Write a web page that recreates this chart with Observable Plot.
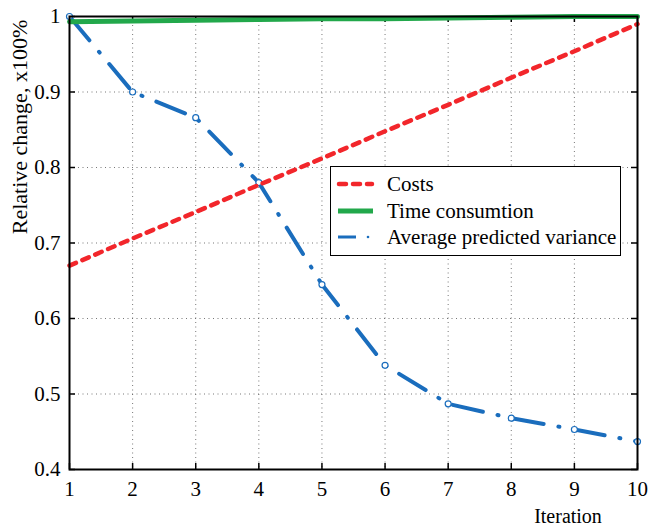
<!DOCTYPE html>
<html>
<head>
<meta charset="utf-8">
<script src="https://cdn.jsdelivr.net/npm/d3@7"></script>
<script src="https://cdn.jsdelivr.net/npm/@observablehq/plot@0.6"></script>
<style>
  body { margin: 0; background: #fff; }
  #wrap { position: relative; width: 649px; height: 526px; font-family: "Liberation Serif", "Times New Roman", Times, "DejaVu Serif", serif; }
  #legend { position: absolute; left: 330px; top: 166px; width: 289px; height: 88px; border: 1.5px solid #000; background: #fff; box-sizing: content-box; }
  .row { position: absolute; left: 0; height: 26px; display: flex; align-items: center; font-size: 21px; white-space: nowrap; }
  .row svg { margin-left: 5px; margin-right: 11px; }
</style>
</head>
<body>
<div id="wrap"></div>
<script>
const iterations = [1, 2, 3, 4, 5, 6, 7, 8, 9, 10];
const costs = [0.670, 0.706, 0.741, 0.777, 0.812, 0.848, 0.883, 0.919, 0.954, 0.990];
const timeConsumption = [0.993, 0.994, 0.995, 0.996, 0.997, 0.997, 0.998, 0.999, 1.000, 1.000];
const avgVariance = [1.000, 0.900, 0.866, 0.780, 0.645, 0.538, 0.487, 0.468, 0.453, 0.437];
const xTicks = [1, 2, 3, 4, 5, 6, 7, 8, 9, 10];
const yTicks = [0.4, 0.5, 0.6, 0.7, 0.8, 0.9, 1];
const yTickLabels = ["0.4", "0.5", "0.6", "0.7", "0.8", "0.9", "1"];
const seriesNames = ["Costs", "Time consumtion", "Average predicted variance"];

const colors = { red: "#f2262b", green: "#22a84b", blue: "#1a6dbd" };
const FONT = '"Liberation Serif", "Times New Roman", Times, "DejaVu Serif", serif';

const rows = iterations.map((x, i) => ({ x, costs: costs[i], time: timeConsumption[i], v: avgVariance[i] }));

const W = 649, H = 526;
const mL = 69, mR = 12, mT = 16, mB = 57;
const frameH = H - mT - mB;
const tickLen = 6;

const chart = Plot.plot({
  width: W, height: H,
  marginLeft: mL, marginRight: mR, marginTop: mT, marginBottom: mB,
  style: { fontFamily: FONT, background: "#fff", overflow: "visible" },
  x: { domain: [1, 10] },
  y: { domain: [0.4, 1] },
  marks: [
    Plot.gridX(xTicks, { stroke: "#555", strokeOpacity: 0.8, strokeDasharray: "1,3.5", strokeWidth: 1 }),
    Plot.gridY(yTicks, { stroke: "#555", strokeOpacity: 0.8, strokeDasharray: "1,3.5", strokeWidth: 1 }),
    Plot.tickX(xTicks, { x: d => d, insetTop: frameH - tickLen, stroke: "#000", strokeWidth: 1.5 }),
    Plot.tickX(xTicks, { x: d => d, insetBottom: frameH - tickLen, stroke: "#000", strokeWidth: 1.5 }),
    Plot.tickY(yTicks, { y: d => d, insetRight: (W - mL - mR) - tickLen, stroke: "#000", strokeWidth: 1.5 }),
    Plot.tickY(yTicks, { y: d => d, insetLeft: (W - mL - mR) - tickLen, stroke: "#000", strokeWidth: 1.5 }),
    Plot.axisX(xTicks, { tickSize: 0, tickPadding: 12, fontSize: 21, label: null, tickFormat: d => String(d) }),
    Plot.axisY(yTicks, { tickSize: 0, tickPadding: 9, fontSize: 21, label: null, tickFormat: (d, i) => yTickLabels[i] }),
    Plot.line(rows, { x: "x", y: "v", stroke: colors.blue, strokeWidth: 4, strokeDasharray: "31,15,1,15", strokeLinecap: "round" }),
    Plot.dot(rows, { x: "x", y: "v", r: 3, stroke: colors.blue, strokeWidth: 1.2, fill: "#fff" }),
    Plot.line(rows, { x: "x", y: "costs", stroke: colors.red, strokeWidth: 4.5, strokeDasharray: "7,7", strokeLinecap: "round" }),
    Plot.line(rows, { x: "x", y: "time", stroke: colors.green, strokeWidth: 5 }),
    Plot.frame({ stroke: "#000", strokeWidth: 2 })
  ]
});

const svg = d3.select(chart);
svg.append("text")
  .attr("transform", "translate(27,127) rotate(-90)")
  .attr("text-anchor", "middle")
  .attr("font-size", 22)
  .attr("fill", "#000")
  .text("Relative change, x100%");
svg.append("text")
  .attr("x", 568).attr("y", 523)
  .attr("text-anchor", "middle")
  .attr("font-size", 20)
  .attr("fill", "#000")
  .text("Iteration");

const wrap = document.getElementById("wrap");
wrap.appendChild(chart);

const legend = document.createElement("div");
legend.id = "legend";
const samples = [
  `<line x1="3" y1="6" x2="36" y2="6" stroke="${colors.red}" stroke-width="4.5" stroke-dasharray="7,7" stroke-linecap="round"/>`,
  `<line x1="2" y1="6" x2="37" y2="6" stroke="${colors.green}" stroke-width="5"/>`,
  `<line x1="2" y1="6" x2="20" y2="6" stroke="${colors.blue}" stroke-width="3"/><circle cx="32" cy="6" r="1.3" fill="${colors.blue}"/>`
];
const tops = [4, 31, 57];
seriesNames.forEach((name, i) => {
  const r = document.createElement("div");
  r.className = "row";
  r.style.top = tops[i] + "px";
  r.innerHTML = `<svg width="40" height="12">${samples[i]}</svg><span>${name}</span>`;
  legend.appendChild(r);
});
wrap.appendChild(legend);
</script>
</body>
</html>
